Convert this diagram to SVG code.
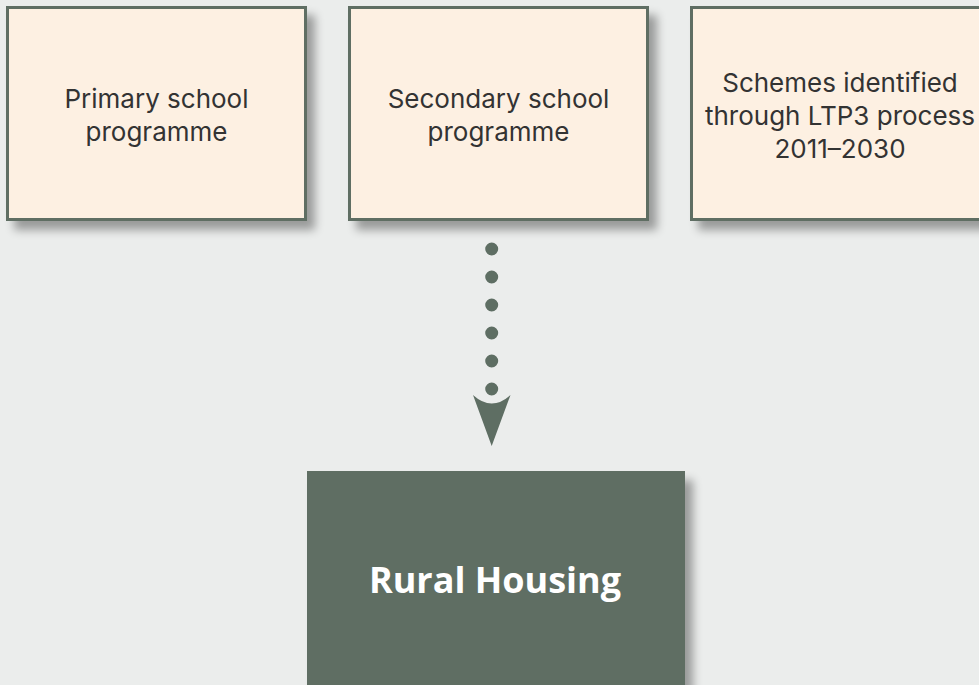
<svg xmlns="http://www.w3.org/2000/svg" width="979" height="685" viewBox="0 0 979 685">
  <defs>
    <filter id="shadow" x="-10%" y="-10%" width="130%" height="130%">
      <feGaussianBlur in="SourceAlpha" stdDeviation="5"/>
      <feOffset dx="8" dy="9" result="b"/>
      <feComponentTransfer><feFuncA type="linear" slope="0.35"/></feComponentTransfer>
      <feMerge><feMergeNode/><feMergeNode in="SourceGraphic"/></feMerge>
    </filter>
  </defs>
  <style>
    .box { fill: #fdf0e2; stroke: #5e6e63; stroke-width: 3; }
    .dark { fill: #5e6e63; }
    .lbl { font-family: Inter, "Open Sans", "DejaVu Sans", sans-serif; font-size: 26px; fill: #333333; text-anchor: middle; }
    .title { font-family: "Open Sans", "Noto Sans", "DejaVu Sans", sans-serif; font-size: 36px; font-weight: bold; fill: #ffffff; text-anchor: middle; }
    .dots { stroke: #5e6e63; stroke-width: 13; stroke-linecap: round; stroke-dasharray: 0 28; fill: none; }
  </style>
  <rect width="979" height="685" fill="#ebedec"/>

  <g id="node-primary">
    <rect class="box" x="7.5" y="7.5" width="298" height="212" filter="url(#shadow)"/>
    <text class="lbl" x="156.5" y="108">Primary school</text>
    <text class="lbl" x="156.5" y="141">programme</text>
  </g>

  <g id="node-secondary">
    <rect class="box" x="349.5" y="7.5" width="298" height="212" filter="url(#shadow)"/>
    <text class="lbl" x="498.5" y="108">Secondary school</text>
    <text class="lbl" x="498.5" y="141">programme</text>
  </g>

  <g id="node-schemes">
    <rect class="box" x="691.5" y="7.5" width="298" height="212" filter="url(#shadow)"/>
    <text class="lbl" x="840" y="92">Schemes identified</text>
    <text class="lbl" x="840" y="125">through LTP3 process</text>
    <text class="lbl" x="840" y="158">2011–2030</text>
  </g>

  <g id="node-rural-housing">
    <rect class="dark" x="307" y="471" width="378" height="230" filter="url(#shadow)"/>
    <text class="title" x="495" y="593">Rural Housing</text>
  </g>

  <g id="connectors">
    <line class="dots" x1="491.7" y1="249" x2="491.7" y2="390"/>
    <path class="dark" d="M473 395 Q491.7 412 510.5 395 L491.7 446 Z"/>
  </g>
</svg>
